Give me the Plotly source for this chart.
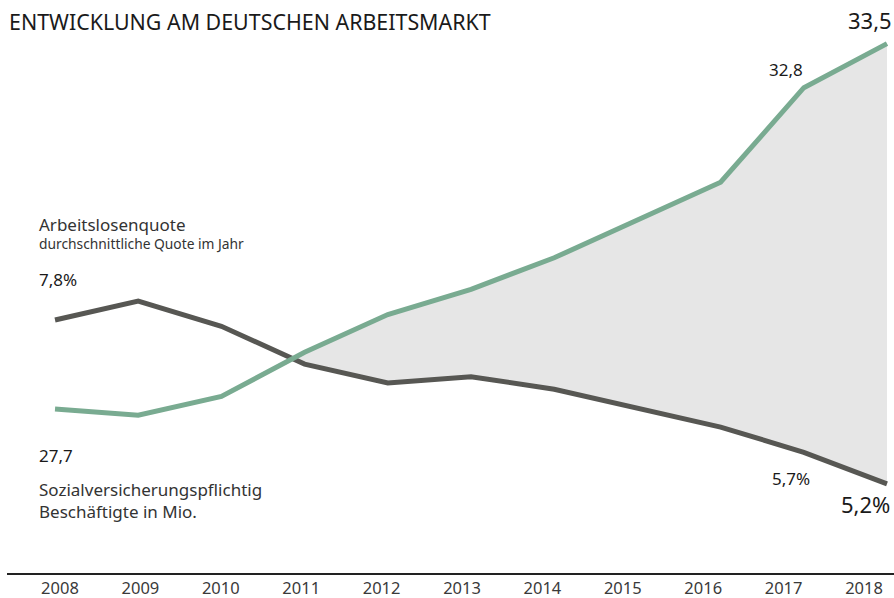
import numpy as np
import plotly.graph_objects as go

years = [2008, 2009, 2010, 2011, 2012, 2013, 2014, 2015, 2016, 2017, 2018]
quote = [7.8, 8.1, 7.7, 7.1, 6.8, 6.9, 6.7, 6.4, 6.1, 5.7, 5.2]            # Arbeitslosenquote in %
beschaeftigte = [27.7, 27.6, 27.9, 28.6, 29.2, 29.6, 30.1, 30.7, 31.3, 32.8, 33.5]  # in Mio.

DARK = "#575753"
GREEN = "#79ab91"
FONT = "Noto Sans"

# both axes share the same scale, only shifted
y1_range = [3.784, 12.879]
y2_range = [25.097, 34.192]
shift = y2_range[0] - y1_range[0]

# fill where employees line lies above the rate line (in y1 units)
x = np.array(years, dtype=float)
a = np.array(quote)
b = np.array(beschaeftigte) - shift
d = b - a
i = int(np.where((d[:-1] < 0) & (d[1:] >= 0))[0][0])
t = -d[i] / (d[i + 1] - d[i])
xc = x[i] + t * (x[i + 1] - x[i])
yc = a[i] + t * (a[i + 1] - a[i])
fx = [xc] + list(x[i + 1:])
poly_x = fx + fx[::-1]
poly_y = [yc] + list(b[i + 1:]) + ([yc] + list(a[i + 1:]))[::-1]

fig = go.Figure()
fig.add_trace(go.Scatter(x=poly_x, y=poly_y, fill="toself", fillcolor="#e6e6e6",
                         line=dict(width=0), mode="lines", hoverinfo="skip"))
fig.add_trace(go.Scatter(x=years, y=quote, mode="lines",
                         line=dict(color=DARK, width=5)))
fig.add_trace(go.Scatter(x=years, y=beschaeftigte, mode="lines", yaxis="y2",
                         line=dict(color=GREEN, width=5)))
# invisible trace that carries the year labels (labels are spaced a bit tighter)
fig.add_trace(go.Scatter(x=years, y=quote, mode="lines", xaxis="x2", opacity=0,
                         line=dict(width=0), hoverinfo="skip"))

def note(text, x, y, size=17, xanchor="left", yanchor="middle", color="#1a1a1a"):
    fig.add_annotation(text=text, x=x, y=y, xref="paper", yref="paper",
                       xanchor=xanchor, yanchor=yanchor, showarrow=False, align="left",
                       font=dict(family=FONT, size=size, color=color))

W, H = 894, 598
def px(xp, yp):
    return (xp - 7) / (W - 7), 1 - yp / 573

note("ENTWICKLUNG AM DEUTSCHEN ARBEITSMARKT", *px(7, 22), size=21.4)
note("Arbeitslosenquote", *px(37, 224), size=17, color="#333333")
note("durchschnittliche Quote im Jahr", *px(37, 244), size=13.8, color="#333333")
note("7,8%", *px(37, 279), size=17)
note("27,7", *px(37, 455), size=17)
note("Sozialversicherungspflichtig<br>Beschäftigte in Mio.", *px(37, 500), size=17,
     color="#333333")
note("32,8", *px(786, 70), size=17, xanchor="center")
note("33,5", *px(894, 20), size=22, xanchor="right")
note("5,7%", *px(791, 478), size=17, xanchor="center")
note("5,2%", *px(892, 504), size=22, xanchor="right")

fig.update_layout(
    width=W, height=H,
    margin=dict(l=7, r=0, t=0, b=H - 573),
    plot_bgcolor="white", paper_bgcolor="white",
    showlegend=False,
    xaxis=dict(range=[2007.423, 2018.084], showticklabels=False, ticks="", showgrid=False,
               zeroline=False, showline=True, linecolor="#222222", linewidth=1.5),
    xaxis2=dict(range=[2007.341, 2018.373], tickvals=years, ticks="", showgrid=False,
                zeroline=False, showline=False, overlaying="x", side="bottom", anchor="y",
                ticklabelstandoff=3,
                tickfont=dict(family=FONT, size=16.5, color="#3a3a3a")),
    yaxis=dict(range=y1_range, visible=False, showgrid=False, fixedrange=True),
    yaxis2=dict(range=y2_range, overlaying="y", visible=False, showgrid=False),
)

fig.write_html("out.html", post_script="document.body.style.margin='0';",
               config={"displayModeBar": False})
